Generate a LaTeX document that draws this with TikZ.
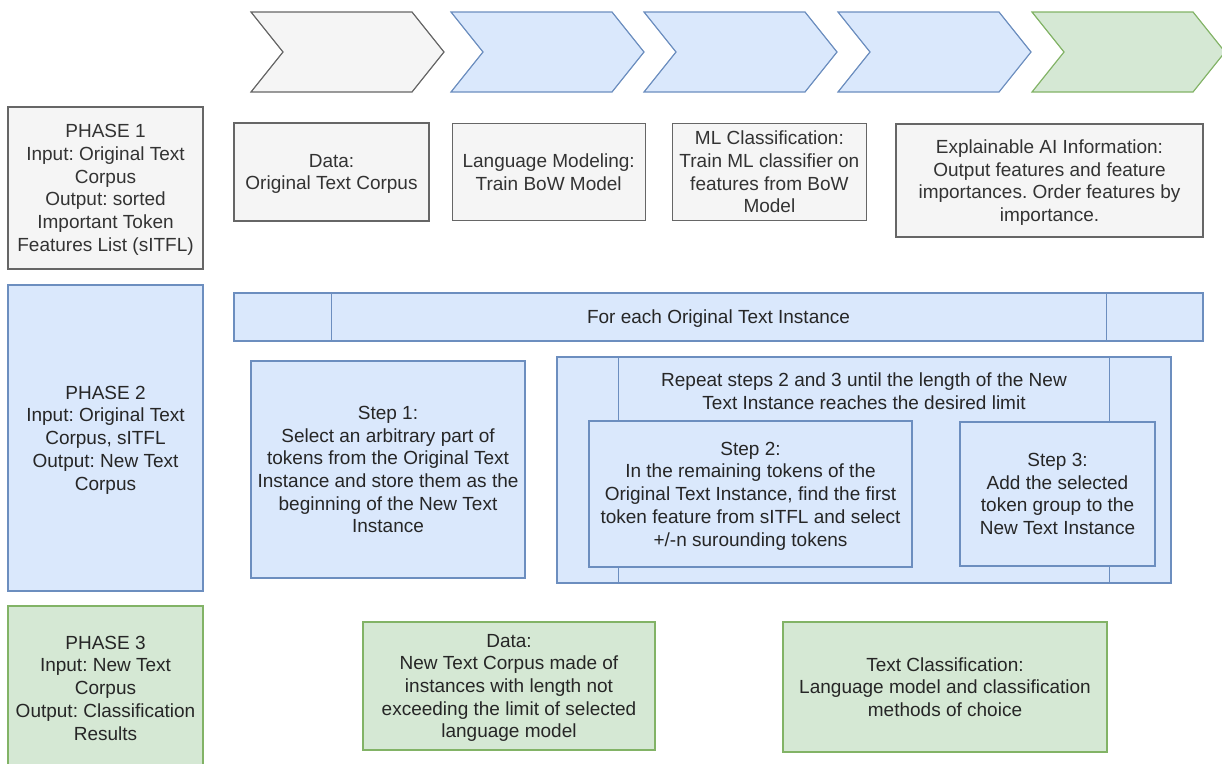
\documentclass[tikz,border=0pt]{standalone}
\usepackage{fontspec}
\setmainfont{Liberation Sans}
\frenchspacing
\usetikzlibrary{positioning}
\definecolor{grayfill}{HTML}{F5F5F5}
\definecolor{grayline}{HTML}{666666}
\definecolor{graytext}{HTML}{333333}
\definecolor{bluefill}{HTML}{DAE8FC}
\definecolor{blueline}{HTML}{6C8EBF}
\definecolor{greenfill}{HTML}{D5E8D4}
\definecolor{greenline}{HTML}{82B366}
\tikzset{
x=1pt, y=-1pt, % pixel units, y runs downwards
box/.style={draw, line width=1.2pt, align=center, inner sep=2pt, text depth=0pt, font=\fontsize{19}{22.7}\selectfont}, % every box
graybox/.style={box, fill=grayfill, draw=grayline, text=graytext}, % phase 1
bluebox/.style={box, fill=bluefill, draw=blueline, text=black!85}, % phase 2
greenbox/.style={box, fill=greenfill, draw=greenline, text=black!85}, % phase 3
plain/.style={align=center, inner sep=0pt, text=black!85, font=\fontsize{19}{22.7}\selectfont}, % bare text
chev/.style={line width=1.2pt, line join=miter}, % arrows on top
}

\begin{document}
\begin{tikzpicture}
    \useasboundingbox (0,0) rectangle (1222,763);

    % phase arrows
    \foreach \cx/\fc/\dc in {251/grayfill/grayline, 451/bluefill/blueline, 644/bluefill/blueline, 838/bluefill/blueline, 1032/greenfill/greenline}
      \draw[chev, fill=\fc, draw=\dc] (\cx,12) -- ++(161,0) -- ++(32,40) -- ++(-32,40) -- ++(-161,0) -- ++(32,-40) -- cycle;

    % phase 1
    \node[graybox, minimum width=195pt, minimum height=162pt] (p1) at (105.5,188)
      {PHASE 1\\Input: Original Text\\Corpus\\Output: sorted\\Important Token\\Features List (sITFL)};
    \node[graybox, minimum width=195pt, minimum height=98pt] (d1) at (331.5,172)
      {Data:\\Original Text Corpus};
    \node[graybox, minimum width=193pt, minimum height=97pt, right=22pt of d1] (lm)
      {Language Modeling:\\Train BoW Model};
    \node[graybox, minimum width=194pt, minimum height=97pt, right=26pt of lm] (ml)
      {ML Classification:\\Train ML classifier on\\features from BoW\\Model};
    \node[graybox, minimum width=307pt, minimum height=113pt] (xai) at (1049.5,180.5)
      {Explainable AI Information:\\Output features and feature\\importances. Order features by\\importance.};

    % phase 2
    \node[bluebox, minimum width=195pt, minimum height=306pt] (p2) at (105.5,438)
      {PHASE 2\\Input: Original Text\\Corpus, sITFL\\Output: New Text\\Corpus};
    \node[bluebox, minimum width=969pt, minimum height=48pt] (fe) at (718.5,317)
      {For each Original Text Instance};
    \draw[blueline, line width=1.2pt]
    ([xshift=98pt]fe.north west) -- ([xshift=98pt]fe.south west)
    ([xshift=-97pt]fe.north east) -- ([xshift=-97pt]fe.south east);

    \node[bluebox, minimum width=274pt, minimum height=217pt] (s1) at (388,469.5)
      {Step 1:\\Select an arbitrary part of\\tokens from the Original Text\\Instance and store them as the\\beginning of the New Text\\Instance};
    \node[bluebox, minimum width=614pt, minimum height=226pt] (rp) at (864,470) {};
    \draw[blueline, line width=1.2pt]
    ([xshift=62pt]rp.north west) -- ([xshift=62pt]rp.south west)
    ([xshift=-62pt]rp.north east) -- ([xshift=-62pt]rp.south east);
    \node[plain] (rptxt) at ([yshift=-35pt]rp.north)
      {Repeat steps 2 and 3 until the length of the New\\Text Instance reaches the desired limit};
    \node[bluebox, minimum width=323pt, minimum height=146pt] (s2) at (750.5,494)
      {Step 2:\\In the remaining tokens of the\\Original Text Instance, find the first\\token feature from sITFL and select\\+/-n surounding tokens};
    \node[bluebox, minimum width=195pt, minimum height=144pt] (s3) at (1057.5,494)
      {Step 3:\\Add the selected\\token group to the\\New Text Instance};

    % phase 3
    \node[greenbox, minimum width=195pt, minimum height=164pt] (p3) at (105.5,688)
      {PHASE 3\\Input: New Text\\Corpus\\Output: Classification\\Results};
    \node[greenbox, minimum width=292pt, minimum height=128pt] (d3) at (509,686)
      {Data:\\New Text Corpus made of\\instances with length not\\exceeding the limit of selected\\language model};
    \node[greenbox, minimum width=324pt, minimum height=130pt] (tc) at (945,687)
      {Text Classification:\\Language model and classification\\methods of choice};
\end{tikzpicture}
\end{document}
